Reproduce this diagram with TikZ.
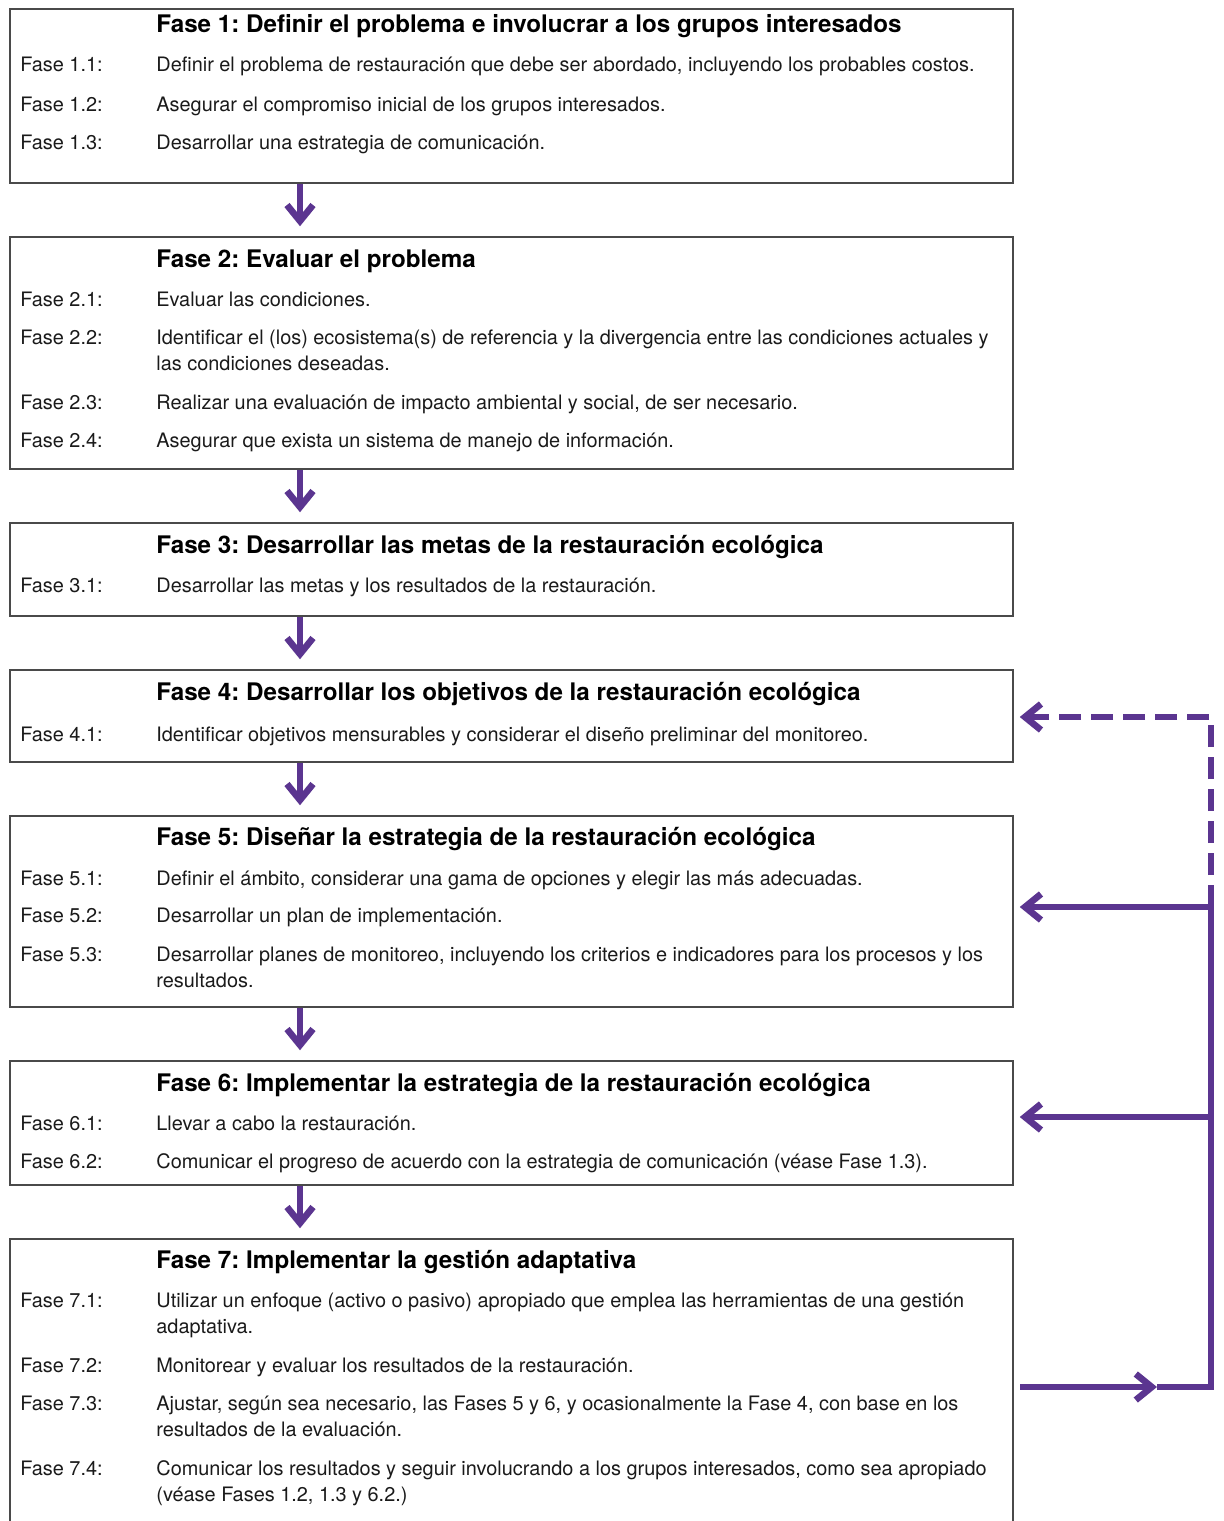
\documentclass[tikz,border=0pt]{standalone}
\usepackage{fontspec}
\setmainfont{TeX Gyre Heros}
\frenchspacing
\usetikzlibrary{arrows.meta,fit}
\definecolor{pur}{HTML}{5B3590}
\definecolor{frame}{HTML}{4A4A4A}
\definecolor{ink}{HTML}{1A1A1A}
\tikzset{
  box/.style={draw=frame, line width=0.75pt, inner sep=0pt},
  lab/.style={anchor=base west, inner sep=0pt, text=ink, font=\fontsize{9.95}{13}\selectfont},
  txt/.style={anchor=base west, inner sep=0pt, align=left, text=ink, font=\fontsize{9.95}{13}\selectfont},
  ttl/.style={anchor=base west, inner sep=0pt, text=black, font=\bfseries\fontsize{12.1}{14}\selectfont},
  flow/.style={draw=pur, line width=3.3pt},
  tip/.style={-{Straight Barb[length=8pt,width=13pt]}},
  dashline/.style={dash pattern=on 11pt off 5pt}
}
\begin{document}
\begin{tikzpicture}[x=0.5pt,y=-0.5pt]
\useasboundingbox (0,0) rectangle (1224,1521);
\clip (0,0) rectangle (1224,1521);
% boxes
\node[box, fit={(10,9)(1013,183)}] (b1) {};
\node[box, fit={(10,237)(1013,469)}] (b2) {};
\node[box, fit={(10,523)(1013,616)}] (b3) {};
\node[box, fit={(10,670)(1013,762)}] (b4) {};
\node[box, fit={(10,816)(1013,1007)}] (b5) {};
\node[box, fit={(10,1061)(1013,1185)}] (b6) {};
\node[box, fit={(10,1239)(1013,1580)}] (b7) {};
% box 1
\node[ttl] (h1) at (156,32) {Fase 1: Definir el problema e involucrar a los grupos interesados};
\node[lab] (l11) at (20,71) {Fase 1.1:};
\node[txt] (t11) at (156,71) {Definir el problema de restauración que debe ser abordado, incluyendo los probables costos.};
\node[lab] (l12) at (20,111) {Fase 1.2:};
\node[txt] (t12) at (156,111) {Asegurar el compromiso inicial de los grupos interesados.};
\node[lab] (l13) at (20,149) {Fase 1.3:};
\node[txt] (t13) at (156,149) {Desarrollar una estrategia de comunicación.};
% box 2
\node[ttl] (h2) at (156,267) {Fase 2: Evaluar el problema};
\node[lab] (l21) at (20,306) {Fase 2.1:};
\node[txt] (t21) at (156,306) {Evaluar las condiciones.};
\node[lab] (l22) at (20,344) {Fase 2.2:};
\node[txt] (t22) at (156,370) {Identificar el (los) ecosistema(s) de referencia y la divergencia entre las condiciones actuales y\\las condiciones deseadas.};
\node[lab] (l23) at (20,409) {Fase 2.3:};
\node[txt] (t23) at (156,409) {Realizar una evaluación de impacto ambiental y social, de ser necesario.};
\node[lab] (l24) at (20,447) {Fase 2.4:};
\node[txt] (t24) at (156,447) {Asegurar que exista un sistema de manejo de información.};
% box 3
\node[ttl] (h3) at (156,553) {Fase 3: Desarrollar las metas de la restauración ecológica};
\node[lab] (l31) at (20,592) {Fase 3.1:};
\node[txt] (t31) at (156,592) {Desarrollar las metas y los resultados de la restauración.};
% box 4
\node[ttl] (h4) at (156,700) {Fase 4: Desarrollar los objetivos de la restauración ecológica};
\node[lab] (l41) at (20,741) {Fase 4.1:};
\node[txt] (t41) at (156,741) {Identificar objetivos mensurables y considerar el diseño preliminar del monitoreo.};
% box 5
\node[ttl] (h5) at (156,845) {Fase 5: Diseñar la estrategia de la restauración ecológica};
\node[lab] (l51) at (20,885) {Fase 5.1:};
\node[txt] (t51) at (156,885) {Definir el ámbito, considerar una gama de opciones y elegir las más adecuadas.};
\node[lab] (l52) at (20,922) {Fase 5.2:};
\node[txt] (t52) at (156,922) {Desarrollar un plan de implementación.};
\node[lab] (l53) at (20,961) {Fase 5.3:};
\node[txt] (t53) at (156,987) {Desarrollar planes de monitoreo, incluyendo los criterios e indicadores para los procesos y los\\resultados.};
% box 6
\node[ttl] (h6) at (156,1091) {Fase 6: Implementar la estrategia de la restauración ecológica};
\node[lab] (l61) at (20,1130) {Fase 6.1:};
\node[txt] (t61) at (156,1130) {Llevar a cabo la restauración.};
\node[lab] (l62) at (20,1168) {Fase 6.2:};
\node[txt] (t62) at (156,1168) {Comunicar el progreso de acuerdo con la estrategia de comunicación (véase Fase 1.3).};
% box 7
\node[ttl] (h7) at (156,1268) {Fase 7: Implementar la gestión adaptativa};
\node[lab] (l71) at (20,1307) {Fase 7.1:};
\node[txt] (t71) at (156,1333) {Utilizar un enfoque (activo o pasivo) apropiado que emplea las herramientas de una gestión\\adaptativa.};
\node[lab] (l72) at (20,1372) {Fase 7.2:};
\node[txt] (t72) at (156,1372) {Monitorear y evaluar los resultados de la restauración.};
\node[lab] (l73) at (20,1410) {Fase 7.3:};
\node[txt] (t73) at (156,1436) {Ajustar, según sea necesario, las Fases 5 y 6, y ocasionalmente la Fase 4, con base en los\\resultados de la evaluación.};
\node[lab] (l74) at (20,1475) {Fase 7.4:};
\node[txt] (t74) at (156,1501) {Comunicar los resultados y seguir involucrando a los grupos interesados, como sea apropiado\\(véase Fases 1.2, 1.3 y 6.2.)};
% down arrows
\coordinate (ax) at (300,0);
\foreach \a/\b in {b1/b2,b2/b3,b3/b4,b4/b5,b5/b6,b6/b7}
  \draw[flow,tip,shorten >=5pt] (ax |- \a.south) -- (ax |- \b.north);
% feedback loop
\coordinate (v4) at (1211,717);
\coordinate (v5) at (1211,907);
\coordinate (v6) at (1211,1117);
\coordinate (v7) at (1211,1387);
\coordinate (s7) at (1020,1387);
\coordinate (m7) at (1157,1387);
\draw[flow,tip] (s7) -- (m7);
\draw[flow,tip,line join=miter,shorten >=3pt] (m7) -- (v7) -- (v5) -- (b5.east |- v5);
\draw[flow,tip,shorten >=3pt] (v6) -- (b6.east |- v6);
\draw[flow,dashline,tip,line join=miter,shorten >=3pt] (v5) -- (v4) -- (b4.east |- v4);
\end{tikzpicture}
\end{document}
